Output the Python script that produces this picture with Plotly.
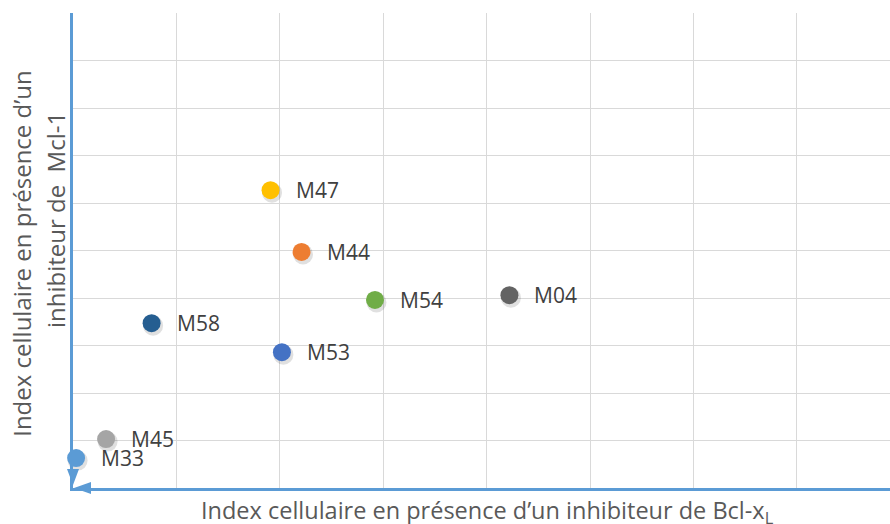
import plotly.graph_objects as go

names = ["M47", "M44", "M54", "M04", "M58", "M53", "M45", "M33"]
x_vals = [1.91, 2.21, 2.92, 4.22, 0.76, 2.02, 0.32, 0.03]
y_vals = [6.27, 4.97, 3.96, 4.06, 3.47, 2.86, 1.03, 0.63]
colors = ["#FFC000", "#ED7D31", "#70AD47", "#636363", "#255E91", "#4472C4", "#A5A5A5", "#5B9BD5"]

x_title = "Index cellulaire en présence d\u2019un inhibiteur de Bcl-x<sub>L</sub>"
y_title_1 = "Index cellulaire en présence d\u2019un"
y_title_2 = "inhibiteur de  Mcl-1"

W, H = 890, 524
L, R, T, B = 73, 0, 13, 36
x_max = 7.9
y_max = 10
px_per_x = (W - L - R) / x_max
px_per_y = (H - T - B) / y_max

fig = go.Figure()

# soft shadows
fig.add_trace(go.Scatter(
    x=[v + 1.5 / px_per_x for v in x_vals],
    y=[v - 2.5 / px_per_y for v in y_vals],
    mode="markers",
    marker=dict(size=20, color="rgba(0,0,0,0.12)", line=dict(width=0)),
    hoverinfo="skip", showlegend=False, cliponaxis=False,
))
fig.add_trace(go.Scatter(
    x=x_vals, y=y_vals, mode="markers",
    marker=dict(size=18, color=colors, line=dict(width=0)),
    text=names, showlegend=False, cliponaxis=False,
))

annotations = []
for n, xv, yv in zip(names, x_vals, y_vals):
    annotations.append(dict(
        x=xv, y=yv, xref="x", yref="y", text=n, showarrow=False,
        xanchor="left", yanchor="middle", xshift=23,
        font=dict(family="Open Sans", size=21, color="#404040"),
    ))

# axis titles
annotations.append(dict(
    x=0.507, y=0, xref="paper", yref="paper", text=x_title, showarrow=False,
    xanchor="center", yanchor="middle", yshift=-23,
    font=dict(family="Open Sans", size=23.5, color="#595959"),
))
annotations.append(dict(
    x=0, y=0.493, xref="paper", yref="paper", text=y_title_1, showarrow=False,
    xanchor="center", yanchor="middle", xshift=-51, textangle=-90,
    font=dict(family="Open Sans", size=24, color="#595959"),
))
annotations.append(dict(
    x=0, y=0.564, xref="paper", yref="paper", text=y_title_2, showarrow=False,
    xanchor="center", yanchor="middle", xshift=-18, textangle=-90,
    font=dict(family="Open Sans", size=24, color="#595959"),
))

arrow_color = "#5B9BD5"
shapes = [
    # downward arrowhead on the vertical axis
    dict(type="path", xref="paper", yref="paper", xsizemode="pixel", ysizemode="pixel",
         xanchor=0, yanchor=0, path="M -6,19 L 6,19 L 0,3 Z",
         fillcolor=arrow_color, line=dict(width=0), layer="above"),
    # leftward arrowhead on the horizontal axis
    dict(type="path", xref="paper", yref="paper", xsizemode="pixel", ysizemode="pixel",
         xanchor=0, yanchor=0, path="M 18,-6 L 18,6 L 1,0 Z",
         fillcolor=arrow_color, line=dict(width=0), layer="above"),
]

fig.update_layout(
    width=W, height=H,
    margin=dict(l=L, r=R, t=T, b=B),
    paper_bgcolor="white", plot_bgcolor="white",
    annotations=annotations, shapes=shapes,
    xaxis=dict(range=[0, x_max], dtick=1, showgrid=True, gridcolor="#D9D9D9", gridwidth=1,
               showticklabels=False, ticks="", zeroline=False,
               showline=True, linecolor=arrow_color, linewidth=2.5, fixedrange=True),
    yaxis=dict(range=[0, y_max], dtick=1, showgrid=True, gridcolor="#D9D9D9", gridwidth=1,
               showticklabels=False, ticks="", zeroline=False,
               showline=True, linecolor=arrow_color, linewidth=2.5, fixedrange=True),
)

fig.write_html("out.html", config={"displayModeBar": False},
               post_script="document.body.style.margin='0';")
